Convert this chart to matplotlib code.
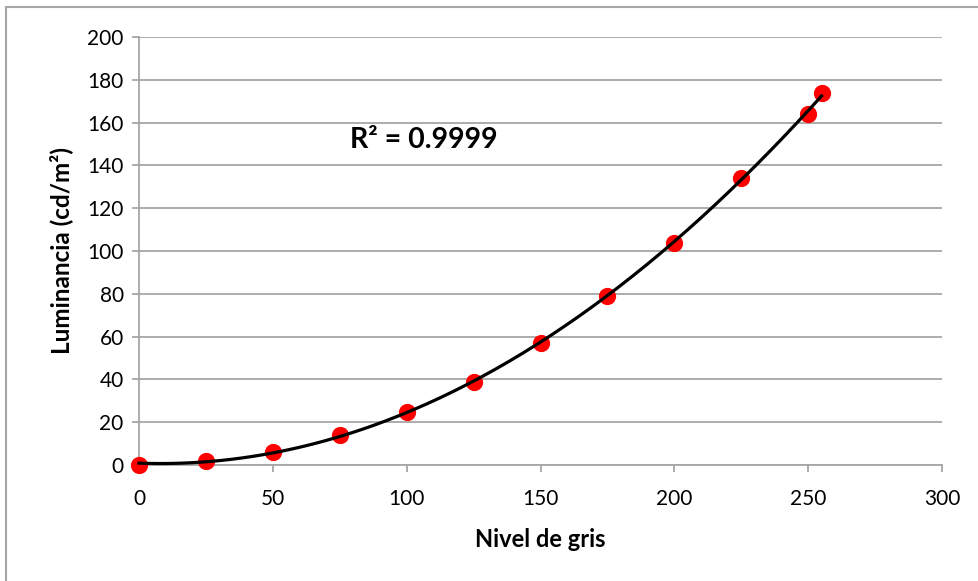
import numpy as np
import matplotlib
matplotlib.use("Agg")
import matplotlib.pyplot as plt
from matplotlib.lines import Line2D

# Measured luminance vs grey level
nivel_gris = [0, 25, 50, 75, 100, 125, 150, 175, 200, 225, 250, 255]
luminancia = [0.0, 1.9, 6.2, 14.0, 24.6, 38.9, 57.0, 79.0, 103.8, 134.0, 164.0, 174.0]
x_ticks = [0, 50, 100, 150, 200, 250, 300]
y_ticks = [0, 20, 40, 60, 80, 100, 120, 140, 160, 180, 200]
r2_label = "R² = 0.9999"

plt.rcParams['font.family'] = ['Lato', 'DejaVu Sans']

fig = plt.figure(figsize=(9.79, 5.81), dpi=100)
ax = fig.add_axes([139/979, 1-465/581, (942-139)/979, (465-37)/581])

grid_c = "#a6a6a6"
ax.set_xlim(0, 300)
ax.set_ylim(0, 200)
ax.set_xticks(x_ticks)
ax.set_yticks(y_ticks)
ax.yaxis.grid(True, color=grid_c, linewidth=1.3)
ax.set_axisbelow(True)
for s in ["top", "right"]:
    ax.spines[s].set_visible(False)
for s in ["left", "bottom"]:
    ax.spines[s].set_color(grid_c)
    ax.spines[s].set_linewidth(1.3)
ax.tick_params(axis="both", colors=grid_c, length=5, width=1.3, labelsize=15,
               labelcolor="black", pad=6)
ax.tick_params(axis="x", pad=12)

# Data points
ax.scatter(nivel_gris, luminancia, s=130, color="#ff0000", zorder=3, clip_on=False)

# Second-order polynomial trendline fitted to the data
coef = np.polyfit(nivel_gris, luminancia, 2)
xf = np.linspace(min(nivel_gris), max(nivel_gris), 200)
ax.plot(xf, np.polyval(coef, xf), color="black", linewidth=2.3, zorder=4, clip_on=False)

ax.text(79, 152, r2_label, fontsize=20.5, fontweight="bold", va="center", ha="left")

ax.set_xlabel("Nivel de gris", fontsize=17, fontweight="bold", labelpad=14)
ax.set_ylabel("Luminancia (cd/m²)", fontsize=17.5, fontweight="bold", labelpad=10)

# Chart frame (left and top edges)
fig.add_artist(Line2D([6/979, 6/979], [0, 1-7/581], transform=fig.transFigure,
                      color=grid_c, linewidth=1.5))
fig.add_artist(Line2D([6/979, 1], [1-7/581, 1-7/581], transform=fig.transFigure,
                      color=grid_c, linewidth=1.5))

fig.savefig("out.png", dpi=100, facecolor="white")
